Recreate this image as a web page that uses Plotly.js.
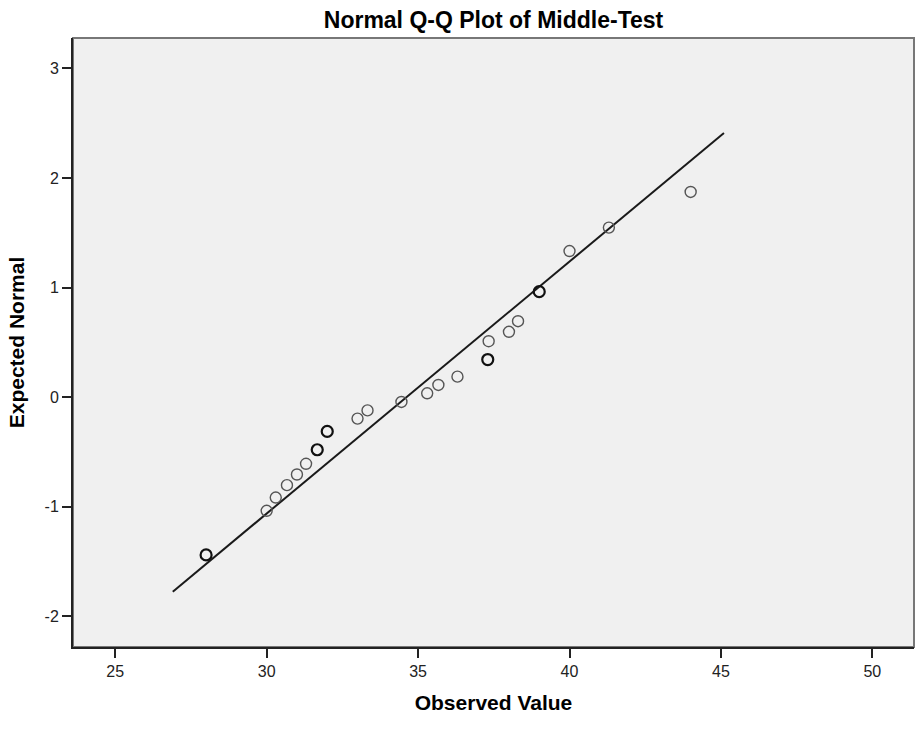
<!DOCTYPE html>
<html>
<head>
<meta charset="utf-8">
<script src="https://cdn.plot.ly/plotly-3.0.1.min.js"></script>
<style>html,body{margin:0;padding:0;background:#fff;}#chart{width:916px;height:729px;}</style>
</head>
<body>
<div id="chart"></div>
<script>
var observed = [28.0, 30.0, 30.3, 30.67, 31.0, 31.3, 31.67, 32.0, 33.0, 33.33, 34.45, 35.3, 35.67, 36.3, 37.3, 37.33, 38.0, 38.3, 39.0, 40.0, 41.3, 44.0];
var expected = [-1.44, -1.037, -0.916, -0.803, -0.706, -0.608, -0.48, -0.313, -0.196, -0.121, -0.044, 0.035, 0.111, 0.187, 0.343, 0.51, 0.596, 0.693, 0.962, 1.333, 1.547, 1.872];
// tied observations (drawn darker in the reference)
var tied = [true, false, false, false, false, false, true, true, false, false, false, false, false, false, true, false, false, false, true, false, false, false];
// reference line end points
var lineX = [26.9, 45.1];
var lineY = [-1.775, 2.41];
var xTicks = [25, 30, 35, 40, 45, 50];
var yTicks = [-2, -1, 0, 1, 2, 3];

var pointColors = tied.map(function(t){ return t ? '#111111' : '#555555'; });
var pointWidths = tied.map(function(t){ return t ? 2.2 : 1.4; });

var traces = [
  {
    x: lineX, y: lineY, type: 'scatter', mode: 'lines',
    line: {color: '#1a1a1a', width: 2}, hoverinfo: 'skip', showlegend: false
  },
  {
    x: observed, y: expected, type: 'scatter', mode: 'markers',
    marker: {symbol: 'circle-open', size: 11, color: pointColors, line: {color: pointColors, width: pointWidths}},
    showlegend: false
  }
];

var layout = {
  width: 916, height: 729,
  margin: {l: 73, r: 2, t: 38, b: 82},
  paper_bgcolor: '#ffffff',
  plot_bgcolor: '#f0f0f0',
  showlegend: false,
  title: {
    text: 'Normal Q-Q Plot of Middle-Test',
    font: {family: 'Liberation Sans, Arial, sans-serif', size: 23, color: '#000000', weight: 'bold'},
    x: 0.5, xref: 'paper', xanchor: 'center',
    y: 1 - 20/729, yref: 'container', yanchor: 'middle'
  },
  xaxis: {
    range: [23.605, 51.375],
    tickvals: xTicks, ticktext: xTicks.map(String),
    ticks: 'outside', ticklen: 9, tickwidth: 2, tickcolor: '#222',
    showgrid: false, zeroline: false,
    showline: true, linecolor: '#222', linewidth: 2,
    tickfont: {family: 'Liberation Sans, Arial, sans-serif', size: 16, color: '#222'},
    title: {text: 'Observed Value', standoff: 16,
      font: {family: 'Liberation Sans, Arial, sans-serif', size: 21, color: '#000', weight: 'bold'}},
    automargin: false
  },
  yaxis: {
    range: [-2.28, 3.277],
    tickvals: yTicks, ticktext: yTicks.map(String),
    ticks: 'outside', ticklen: 9, tickwidth: 2, tickcolor: '#222',
    showgrid: false, zeroline: false,
    showline: true, linecolor: '#222', linewidth: 2,
    tickfont: {family: 'Liberation Sans, Arial, sans-serif', size: 16, color: '#222'},
    title: {text: 'Expected Normal', standoff: 14,
      font: {family: 'Liberation Sans, Arial, sans-serif', size: 21, color: '#000', weight: 'bold'}},
    automargin: false
  },
  shapes: [
    {type: 'rect', xref: 'paper', yref: 'paper', x0: 0, x1: 1, y0: 0, y1: 1,
     line: {color: '#777777', width: 2}, fillcolor: 'rgba(0,0,0,0)', layer: 'below'}
  ]
};

Plotly.newPlot('chart', traces, layout, {displayModeBar: false, staticPlot: true});
</script>
</body>
</html>
